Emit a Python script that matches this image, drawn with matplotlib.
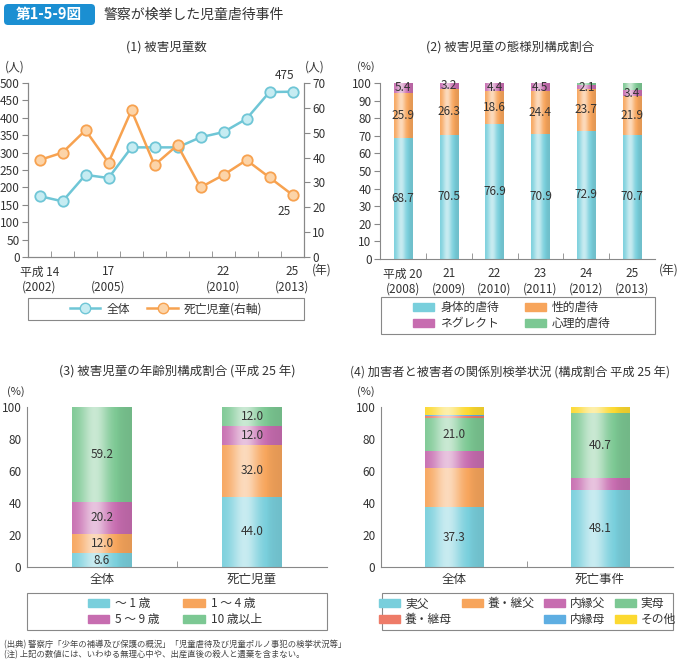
import matplotlib
matplotlib.use("Agg")
import matplotlib.pyplot as plt
import numpy as np
from matplotlib.patches import Rectangle, FancyBboxPatch, Patch
from matplotlib.lines import Line2D

plt.rcParams['font.family'] = ['Noto Sans CJK JP', 'DejaVu Sans']
plt.rcParams['axes.edgecolor'] = '#888888'
plt.rcParams['xtick.color'] = '#888888'
plt.rcParams['ytick.color'] = '#888888'
plt.rcParams['xtick.labelcolor'] = '#333333'
plt.rcParams['ytick.labelcolor'] = '#333333'

# (1) 被害児童数
years1 = ['平成 14\n(2002)', '', '', '17\n(2005)', '', '', '', '', '22\n(2010)', '', '', '25\n(2013)']
total_children = [175, 160, 236, 227, 315, 315, 315, 344, 359, 397, 474, 475]
dead_children = [39, 42, 51, 38, 59, 37, 45, 28, 33, 39, 32, 25]

# (2) 被害児童の態様別構成割合
years2 = ['平成 20\n(2008)', '21\n(2009)', '22\n(2010)', '23\n(2011)', '24\n(2012)', '25\n(2013)']
physical = [68.7, 70.5, 76.9, 70.9, 72.9, 70.7]
sexual = [25.9, 26.3, 18.6, 24.4, 23.7, 21.9]
neglect = [5.4, 3.2, 4.4, 4.5, 2.1, 3.4]
psych = [0.0, 0.0, 0.1, 0.2, 1.3, 4.0]

# (3) 被害児童の年齢別構成割合
groups3 = ['全体', '死亡児童']
age_0_1 = [8.6, 44.0]
age_1_4 = [12.0, 32.0]
age_5_9 = [20.2, 12.0]
age_10 = [59.2, 12.0]

# (4) 加害者と被害者の関係別
groups4 = ['全体', '死亡事件']
real_father = [37.3, 48.1]
step_father = [24.7, 0.0]
common_father = [10.4, 7.4]
real_mother = [21.0, 40.7]
step_mother = [1.0, 0.0]
common_mother = [0.3, 0.0]
others = [5.3, 3.8]

C_CYAN = '#79cfdc'
C_ORANGE = '#f7a55c'
C_PINK = '#c76db0'
C_GREEN = '#7cc893'
C_RED = '#ee7b68'
C_BLUE = '#5eaee2'
C_YELLOW = '#fcd930'
TXT = '#333333'

W, H = 683, 664
fig = plt.figure(figsize=(W / 100, H / 100), dpi=100)


def rect(x0, y0, x1, y1):
    return [x0 / W, 1 - y1 / H, (x1 - x0) / W, (y1 - y0) / H]


def fx(x):
    return x / W


def fy(y):
    return 1 - y / H


def shade(ax, patches, color):
    c = np.array(matplotlib.colors.to_rgb(color))
    t = np.linspace(0, 1, 64)
    w = 0.62 * np.exp(-((t - 0.38) / 0.24) ** 2)
    w = w - 0.08 * t
    w = np.clip(w, -0.1, 1)
    grad = np.empty((1, 64, 3))
    for i in range(64):
        if w[i] >= 0:
            grad[0, i] = c * (1 - w[i]) + w[i]
        else:
            grad[0, i] = c * (1 + w[i])
    for p in patches:
        h = p.get_height()
        if h <= 0:
            continue
        x, y, wd = p.get_x(), p.get_y(), p.get_width()
        ax.imshow(grad, extent=[x, x + wd, y, y + h], aspect='auto',
                  interpolation='bilinear', zorder=2)


def legend_box(x0, y0, x1, y1):
    fig.patches.append(Rectangle((fx(x0), fy(y1)), fx(x1) - fx(x0), fy(y0) - fy(y1),
                                 transform=fig.transFigure, facecolor='white',
                                 edgecolor='#888888', linewidth=0.8))


# header
fig.patches.append(FancyBboxPatch((fx(4), fy(25)), fx(91), fy(4) - fy(25),
                                  boxstyle='round,pad=0,rounding_size=0.006',
                                  transform=fig.transFigure, facecolor='#1b8fd2',
                                  edgecolor='none'))
fig.text(fx(49), fy(14.5), '第1-5-9図', color='white', fontsize=10.5,
         fontweight='bold', ha='center', va='center')
fig.text(fx(104), fy(14.5), '警察が検挙した児童虐待事件', color=TXT, fontsize=10,
         ha='left', va='center')

# ---------- (1) ----------
ax1 = fig.add_axes(rect(28, 83, 304, 257))
x1 = np.arange(len(total_children))
ax1.plot(x1, total_children, color='#6fc6d6', lw=1.8, marker='o', ms=7.5,
         mfc='#c6ecf2', mec='#6fc6d6', mew=1.3, zorder=3)
ax1.set_ylim(0, 500)
ax1.set_xlim(-0.5, 11.5)
ax1.set_yticks(range(0, 501, 50))
ax1.set_xticks(x1)
ax1.set_xticklabels(years1)
ax1.set_xticks(np.arange(0.5, 11, 1), minor=True)
ax1.tick_params(axis='x', which='major', length=0, labelsize=8.5, pad=6)
ax1.tick_params(axis='x', which='minor', direction='in', length=4)
ax1.tick_params(axis='y', direction='out', length=4, labelsize=8.5, pad=2)
ax1.spines['top'].set_visible(False)
ax2 = ax1.twinx()
ax2.plot(x1, dead_children, color='#f7a250', lw=1.8, marker='o', ms=7.5,
         mfc='#fcd4a8', mec='#f7a250', mew=1.3, zorder=3)
ax2.set_ylim(0, 70)
ax2.set_yticks(range(0, 71, 10))
ax2.tick_params(axis='y', direction='out', length=4, labelsize=8.5, pad=2)
ax2.spines['top'].set_visible(False)
ax1.annotate(str(total_children[-1]), (x1[-1], total_children[-1]), xytext=(-6, 7),
             textcoords='offset points', ha='center', va='bottom', fontsize=8.5, color=TXT)
ax2.annotate(str(dead_children[-1]), (x1[-1], dead_children[-1]), xytext=(-6, -7),
             textcoords='offset points', ha='center', va='top', fontsize=8.5, color=TXT)
fig.text(fx(15), fy(67), '(人)', fontsize=8.5, color=TXT, ha='center', va='center')
fig.text(fx(315), fy(67), '(人)', fontsize=8.5, color=TXT, ha='center', va='center')
fig.text(fx(322), fy(270), '(年)', fontsize=8.5, color=TXT, ha='center', va='center')
fig.text(fx(166), fy(47), '(1) 被害児童数', fontsize=9, color=TXT, ha='center', va='center')

legend_box(28, 298, 304, 320)
h1 = [Line2D([], [], color='#6fc6d6', lw=1.8, marker='o', ms=7.5, mfc='#c6ecf2', mec='#6fc6d6'),
      Line2D([], [], color='#f7a250', lw=1.8, marker='o', ms=7.5, mfc='#fcd4a8', mec='#f7a250')]
fig.legend(h1, ['全体', '死亡児童(右軸)'], loc='center', bbox_to_anchor=(fx(166), fy(309)),
           ncol=2, frameon=False, fontsize=8.5, handlelength=2.6, columnspacing=1.5,
           handletextpad=0.5, labelcolor=TXT)

# ---------- (2) ----------
ax3 = fig.add_axes(rect(380, 83, 655, 259))
x2 = np.arange(len(physical))
bw = 0.4
series2 = [(physical, C_CYAN, '身体的虐待'), (sexual, C_ORANGE, '性的虐待'),
           (neglect, C_PINK, 'ネグレクト'), (psych, C_GREEN, '心理的虐待')]
bottom = np.zeros(len(x2))
for vals, col, lab in series2:
    bars = ax3.bar(x2, vals, bw, bottom=bottom, color=col, zorder=1)
    shade(ax3, bars, col)
    if lab != '心理的虐待':
        for xi, b, v in zip(x2, bottom, vals):
            ax3.text(xi, b + v / 2, f'{v:.1f}', ha='center', va='center',
                     fontsize=8.5, color=TXT, zorder=5)
    bottom += np.array(vals)
ax3.set_xlim(-0.5, 5.5)
ax3.set_ylim(0, 100)
ax3.set_yticks(range(0, 101, 10))
ax3.set_xticks(x2)
ax3.set_xticklabels(years2)
ax3.set_xticks(np.arange(0.5, 5, 1), minor=True)
ax3.tick_params(axis='x', which='major', length=0, labelsize=8.5, pad=6)
ax3.tick_params(axis='x', which='minor', direction='in', length=4)
ax3.tick_params(axis='y', direction='out', length=4, labelsize=8.5, pad=2)
ax3.spines['top'].set_visible(False)
ax3.spines['right'].set_visible(False)
fig.text(fx(366), fy(67), '(%)', fontsize=8, color=TXT, ha='center', va='center')
fig.text(fx(669), fy(270), '(年)', fontsize=8.5, color=TXT, ha='center', va='center')
fig.text(fx(510), fy(47), '(2) 被害児童の態様別構成割合', fontsize=9, color=TXT,
         ha='center', va='center')

legend_box(381, 297, 655, 334)
hh = [Patch(color=c) for _, c, _ in series2]
labs = [l for _, _, l in series2]
fig.legend([hh[0], hh[2], hh[1], hh[3]], [labs[0], labs[2], labs[1], labs[3]],
           loc='center', bbox_to_anchor=(fx(512), fy(315.5)), ncol=2, frameon=False,
           fontsize=8.5, handlelength=1.8, handleheight=0.7, columnspacing=2.2,
           handletextpad=0.5, labelspacing=0.25, labelcolor=TXT)

# ---------- (3) ----------
ax4 = fig.add_axes(rect(27, 407, 327, 567))
x3 = np.arange(len(groups3))
series3 = [(age_0_1, C_CYAN, '～ 1 歳'), (age_1_4, C_ORANGE, '1 ～ 4 歳'),
           (age_5_9, C_PINK, '5 ～ 9 歳'), (age_10, C_GREEN, '10 歳以上')]
bottom = np.zeros(len(x3))
for vals, col, lab in series3:
    bars = ax4.bar(x3, vals, bw, bottom=bottom, color=col, zorder=1)
    shade(ax4, bars, col)
    for xi, b, v in zip(x3, bottom, vals):
        ax4.text(xi, b + v / 2, f'{v:.1f}', ha='center', va='center',
                 fontsize=8.5, color=TXT, zorder=5)
    bottom += np.array(vals)
ax4.set_xlim(-0.5, 1.5)
ax4.set_ylim(0, 100)
ax4.set_yticks(range(0, 101, 20))
ax4.set_xticks(x3)
ax4.set_xticklabels(groups3)
ax4.set_xticks([0.5], minor=True)
ax4.tick_params(axis='x', which='major', length=0, labelsize=9, pad=4)
ax4.tick_params(axis='x', which='minor', direction='in', length=4)
ax4.tick_params(axis='y', direction='out', length=0, labelsize=8.5, pad=4)
ax4.spines['top'].set_visible(False)
ax4.spines['right'].set_visible(False)
fig.text(fx(16), fy(392), '(%)', fontsize=8, color=TXT, ha='center', va='center')
fig.text(fx(177), fy(372), '(3) 被害児童の年齢別構成割合 (平成 25 年)', fontsize=9,
         color=TXT, ha='center', va='center')

legend_box(27, 593, 327, 630)
hh = [Patch(color=c) for _, c, _ in series3]
labs = [l for _, _, l in series3]
fig.legend([hh[0], hh[2], hh[1], hh[3]], [labs[0], labs[2], labs[1], labs[3]],
           loc='center', bbox_to_anchor=(fx(175), fy(611.5)), ncol=2, frameon=False,
           fontsize=8.5, handlelength=1.8, handleheight=0.7, columnspacing=2.0,
           handletextpad=0.5, labelspacing=0.25, labelcolor=TXT)

# ---------- (4) ----------
ax5 = fig.add_axes(rect(381, 407, 673, 567))
x4 = np.arange(len(groups4))
series4 = [(real_father, C_CYAN, '実父'), (step_father, C_ORANGE, '養・継父'),
           (common_father, C_PINK, '内縁父'), (real_mother, C_GREEN, '実母'),
           (step_mother, C_RED, '養・継母'), (common_mother, C_BLUE, '内縁母'),
           (others, C_YELLOW, 'その他')]
bottom = np.zeros(len(x4))
for vals, col, lab in series4:
    bars = ax5.bar(x4, vals, bw, bottom=bottom, color=col, zorder=1)
    shade(ax5, bars, col)
    if lab in ('実父', '実母'):
        for xi, b, v in zip(x4, bottom, vals):
            ax5.text(xi, b + v / 2, f'{v:.1f}', ha='center', va='center',
                     fontsize=8.5, color=TXT, zorder=5)
    bottom += np.array(vals)
ax5.set_xlim(-0.5, 1.5)
ax5.set_ylim(0, 100)
ax5.set_yticks(range(0, 101, 20))
ax5.set_xticks(x4)
ax5.set_xticklabels(groups4)
ax5.set_xticks([0.5], minor=True)
ax5.tick_params(axis='x', which='major', length=0, labelsize=9, pad=4)
ax5.tick_params(axis='x', which='minor', direction='in', length=4)
ax5.tick_params(axis='y', direction='out', length=0, labelsize=8.5, pad=4)
ax5.spines['top'].set_visible(False)
ax5.spines['right'].set_visible(False)
fig.text(fx(366), fy(392), '(%)', fontsize=8, color=TXT, ha='center', va='center')
fig.text(fx(510), fy(372), '(4) 加害者と被害者の関係別検挙状況 (構成割合 平成 25 年)',
         fontsize=8.8, color=TXT, ha='center', va='center')

legend_box(382, 593, 673, 630)
hh = [Patch(color=c) for _, c, _ in series4]
labs = [l for _, _, l in series4]
blank = Patch(color='none')
fig.legend([hh[0], hh[4], hh[1], blank, hh[2], hh[5], hh[3], hh[6]],
           [labs[0], labs[4], labs[1], '', labs[2], labs[5], labs[3], labs[6]],
           loc='center', bbox_to_anchor=(fx(527.5), fy(611.5)), ncol=4, frameon=False,
           fontsize=8.5, handlelength=1.8, handleheight=0.7, columnspacing=0.8,
           handletextpad=0.4, labelspacing=0.25, labelcolor=TXT)

# footnotes
fig.text(fx(4), fy(645), '(出典) 警察庁「少年の補導及び保護の概況」「児童虐待及び児童ポルノ事犯の検挙状況等」',
         fontsize=6, color='#444444', ha='left', va='center')
fig.text(fx(4), fy(655), '(注) 上記の数値には、いわゆる無理心中や、出産直後の殺人と遺棄を含まない。',
         fontsize=6, color='#444444', ha='left', va='center')

fig.savefig('out.png', dpi=100)
